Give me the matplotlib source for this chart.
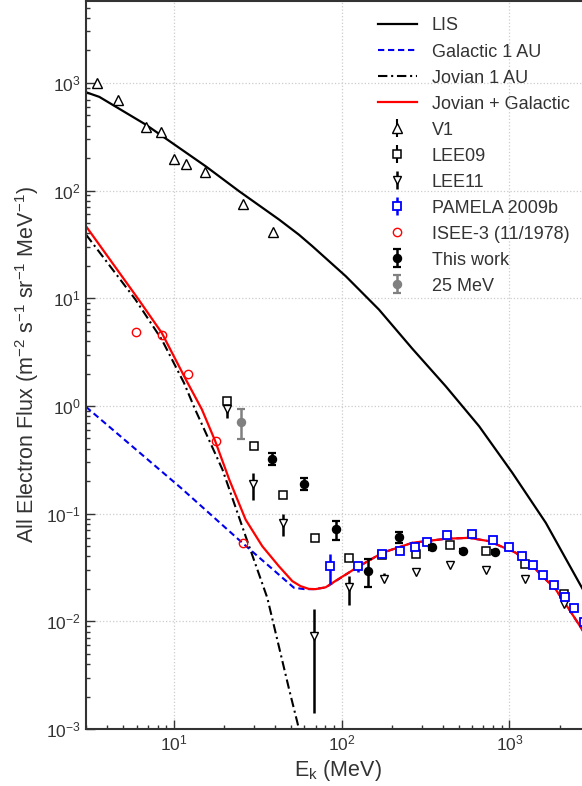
import matplotlib
matplotlib.use("Agg")
import matplotlib.pyplot as plt
from matplotlib.ticker import FixedLocator, LogFormatterSciNotation, NullFormatter

plt.rcParams["font.family"] = ["Liberation Sans", "DejaVu Sans"]
plt.rcParams["mathtext.fontset"] = "custom"
plt.rcParams["mathtext.rm"] = "Liberation Sans"
plt.rcParams["mathtext.it"] = "Liberation Sans:italic"
plt.rcParams["mathtext.bf"] = "Liberation Sans:bold"
plt.rcParams["axes.unicode_minus"] = True

# ---------------- model curves ----------------
lis_e = [3, 3.6, 6.8, 15.5, 24.5, 42.4, 55.6, 67, 106, 167, 264, 418, 660,
         1042, 1648, 2674, 3000]
lis_f = [818, 741, 410, 168, 98.6, 53.8, 39, 30.4, 16.0, 7.85, 3.4, 1.52,
         0.648, 0.239, 0.0822, 0.0212, 0.0155]

gal_e = [3, 11, 25.6, 52, 60, 68, 80.4, 121, 175, 264, 418, 575, 757, 1092,
         1436, 1892, 2270, 2675, 3000]
gal_f = [0.98, 0.174, 0.0536, 0.0205, 0.0199, 0.0199, 0.0206, 0.031, 0.0433,
         0.0536, 0.0584, 0.0596, 0.0555, 0.0433, 0.0303, 0.0197, 0.0129,
         0.0087, 0.0064]

jov_e = [3, 5.89, 8.48, 11.5, 13.4, 19.5, 26.8, 36.1, 48.7, 54.6, 56.5]
jov_f = [39, 9.8, 4.14, 1.64, 0.93, 0.257, 0.0617, 0.0165, 0.00233, 0.00114,
         0.0009]

tot_e = [3, 6.15, 8.48, 11.8, 14.7, 17.6, 21.4, 26.8, 33.7, 42.3, 50.9, 57,
         63.8, 70, 80.4, 95, 121, 175, 264, 418, 575, 757, 1092, 1436, 1892,
         2270, 2675, 3000]
tot_f = [46.6, 9.8, 4.77, 1.76, 0.93, 0.478, 0.2075, 0.088, 0.0498, 0.0325,
         0.0236, 0.0212, 0.0200, 0.0199, 0.0207, 0.0245, 0.031, 0.0433,
         0.0536, 0.0584, 0.0596, 0.0555, 0.0433, 0.0303, 0.0197, 0.0129,
         0.0087, 0.0064]

# ---------------- measurements ----------------
v1_e = [3.48, 4.66, 6.81, 8.37, 10.1, 11.9, 15.4, 25.8, 39.2]
v1_f = [1000, 700, 390, 348, 198, 178, 150, 75, 41.6]
v1_err = [20, 14, 8, 7, 4, 4, 3, 1.5, 0.8]

lee09_e = [20.8, 29.9, 44.8, 69.3, 110.5, 175, 277, 442, 726, 1238, 2108]
lee09_f = [1.106, 0.429, 0.1475, 0.060, 0.0386, 0.041, 0.042, 0.0508,
           0.0454, 0.0337, 0.0181]
lee09_err = [0.05, 0.02, 0.007, 0.005, 0.002, 0.002, 0.002, 0.002, 0.002,
             0.0015, 0.001]

lee11_e = [20.8, 29.8, 44.8, 68.6, 110.5, 178, 277, 441, 726, 1238, 2108]
lee11_f = [0.927, 0.188, 0.0822, 0.0073, 0.0207, 0.0249, 0.0288, 0.0332,
           0.0298, 0.0245, 0.0146]
lee11_lo = [0.15, 0.055, 0.0205, 0.0059, 0.0066, 0.001, 0.001, 0.001, 0.001,
            0.001, 0.0008]
lee11_hi = [0.10, 0.051, 0.016, 0.0056, 0.0055, 0.003, 0.001, 0.001, 0.001,
            0.001, 0.0008]

pam_e = [85.1, 124.5, 175, 223, 274, 322, 423, 597, 795, 995, 1196, 1390,
         1594, 1845, 2143, 2442, 2780]
pam_f = [0.0325, 0.0327, 0.0424, 0.0445, 0.0488, 0.0551, 0.063, 0.064,
         0.0575, 0.0492, 0.0403, 0.0332, 0.0269, 0.0216, 0.0168, 0.0132,
         0.0098]
pam_lo = [0.0105, 0.004, 0.002, 0.002, 0.002, 0.002, 0.002, 0.002, 0.002,
          0.002, 0.0015, 0.0012, 0.001, 0.001, 0.0008, 0.0006, 0.0005]
pam_hi = [0.0099, 0.0032, 0.002, 0.002, 0.002, 0.002, 0.002, 0.002, 0.002,
          0.002, 0.0015, 0.0012, 0.001, 0.001, 0.0008, 0.0006, 0.0005]

isee_e = [5.96, 8.48, 12.2, 17.8, 25.9]
isee_f = [4.87, 4.54, 1.99, 0.477, 0.0536]

tw_e = [38.5, 59.8, 93, 144, 221, 344, 531, 822]
tw_f = [0.323, 0.189, 0.0715, 0.0296, 0.0604, 0.0485, 0.0448, 0.0438]
tw_lo = [0.043, 0.024, 0.0148, 0.0089, 0.0068, 0.003, 0.002, 0.002]
tw_hi = [0.044, 0.026, 0.0148, 0.0087, 0.0077, 0.003, 0.002, 0.002]

mev25_e = [25.0]
mev25_f = [0.71]
mev25_lo = [0.215]
mev25_hi = [0.22]

# tick positions (decades and their sub-multiples inside the view)
x_major = [10, 100, 1000]
y_major = [1e-3, 1e-2, 1e-1, 1, 10, 100, 1000]

text_c = "#333333"

fig = plt.figure(figsize=(5.82, 7.86), dpi=100)
ax = fig.add_axes([0.1478, 0.0725, 0.865, 0.9267])
ax.set_xscale("log")
ax.set_yscale("log")

h_lis, = ax.plot(lis_e, lis_f, color="black", lw=1.6, label="LIS")
h_gal, = ax.plot(gal_e, gal_f, color="#0000ee", lw=1.5,
                 linestyle=(0, (3, 1.8)), label="Galactic 1 AU")
h_jov, = ax.plot(jov_e, jov_f, color="black", lw=1.5,
                 linestyle=(0, (4.5, 1.8, 1, 1.8)), label="Jovian 1 AU")
h_tot, = ax.plot(tot_e, tot_f, color="#ff0000", lw=1.6,
                 label="Jovian + Galactic")

h_v1 = ax.errorbar(v1_e, v1_f, yerr=v1_err, fmt="^", ms=6.5, mfc="white",
                   mec="black", mew=1.0, ecolor="black", elinewidth=1.5,
                   capsize=0, label="V1", zorder=4)
h_lee09 = ax.errorbar(lee09_e, lee09_f, yerr=lee09_err, fmt="s", ms=6,
                      mfc="white", mec="black", mew=1.1, ecolor="black",
                      elinewidth=1.5, capsize=0, label="LEE09", zorder=4)
h_lee11 = ax.errorbar(lee11_e, lee11_f, yerr=[lee11_lo, lee11_hi], fmt="v",
                      ms=6, mfc="white", mec="black", mew=1.0, ecolor="black",
                      elinewidth=1.8, capsize=0, label="LEE11", zorder=4)
h_pam = ax.errorbar(pam_e, pam_f, yerr=[pam_lo, pam_hi], fmt="s", ms=6,
                    mfc="white", mec="#0000ff", mew=1.3, ecolor="#0000ff",
                    elinewidth=1.8, capsize=0, label="PAMELA 2009b", zorder=5)
h_isee, = ax.plot(isee_e, isee_f, "o", ms=6, mfc="none", mec="#ff0000",
                  mew=1.0, label="ISEE-3 (11/1978)", zorder=5)
h_tw = ax.errorbar(tw_e, tw_f, yerr=[tw_lo, tw_hi], fmt="o", ms=5.8,
                   mfc="black", mec="black", ecolor="black", elinewidth=1.8,
                   capsize=3.2, capthick=1.6, label="This work", zorder=6)
h_25 = ax.errorbar(mev25_e, mev25_f, yerr=[mev25_lo, mev25_hi], fmt="o",
                   ms=5.8, mfc="#808080", mec="#808080", ecolor="#808080",
                   elinewidth=1.8, capsize=3.2, capthick=1.6,
                   label="25 MeV", zorder=6)

ax.set_xlim(3, 3000)
ax.set_ylim(1e-3, 5800)

x_minor = [m * d for d in (1, 10, 100, 1000) for m in range(2, 10)
           if 3 <= m * d <= 3000 and m * d not in x_major]
y_minor = [m * d for d in (1e-3, 1e-2, 1e-1, 1, 10, 100, 1000)
           for m in range(2, 10) if m * d <= 5800]

ax.xaxis.set_major_locator(FixedLocator(x_major))
ax.xaxis.set_minor_locator(FixedLocator(x_minor))
ax.yaxis.set_major_locator(FixedLocator(y_major))
ax.yaxis.set_minor_locator(FixedLocator(y_minor))
ax.xaxis.set_major_formatter(LogFormatterSciNotation())
ax.yaxis.set_major_formatter(LogFormatterSciNotation())
ax.xaxis.set_minor_formatter(NullFormatter())
ax.yaxis.set_minor_formatter(NullFormatter())

ax.tick_params(which="both", direction="in", colors=text_c, labelsize=12.5)
ax.tick_params(which="major", length=6.3, width=1.0)
ax.tick_params(which="minor", length=3.1, width=1.0)
ax.tick_params(axis="x", which="major", pad=3.5)
ax.tick_params(axis="y", which="major", pad=4)

for s in ax.spines.values():
    s.set_color(text_c)
    s.set_linewidth(1.5)

ax.grid(True, which="major", color="#cccccc", linestyle=":", linewidth=0.9)
ax.set_axisbelow(True)

ax.set_xlabel(r"$\mathrm{E_k}$ (MeV)", fontsize=15.5, color=text_c,
              labelpad=3)
ax.set_ylabel(r"All Electron Flux (m$^{-2}$ s$^{-1}$ sr$^{-1}$ MeV$^{-1}$)",
              fontsize=15.5, color=text_c)
ax.yaxis.set_label_coords(-0.09, 0.5)

handles = [h_lis, h_gal, h_jov, h_tot, h_v1, h_lee09, h_lee11, h_pam, h_isee,
           h_tw, h_25]
labels = [h.get_label() for h in handles]
leg = fig.legend(handles, labels, loc="upper left",
                 bbox_to_anchor=(378 / 582, 1 - 17.5 / 786),
                 bbox_transform=fig.transFigure, frameon=False, fontsize=13,
                 borderpad=0, borderaxespad=0, handlelength=2.14,
                 handletextpad=0.83, labelspacing=0.5, numpoints=1)
for t in leg.get_texts():
    t.set_color(text_c)

fig.savefig("out.png", dpi=100)
